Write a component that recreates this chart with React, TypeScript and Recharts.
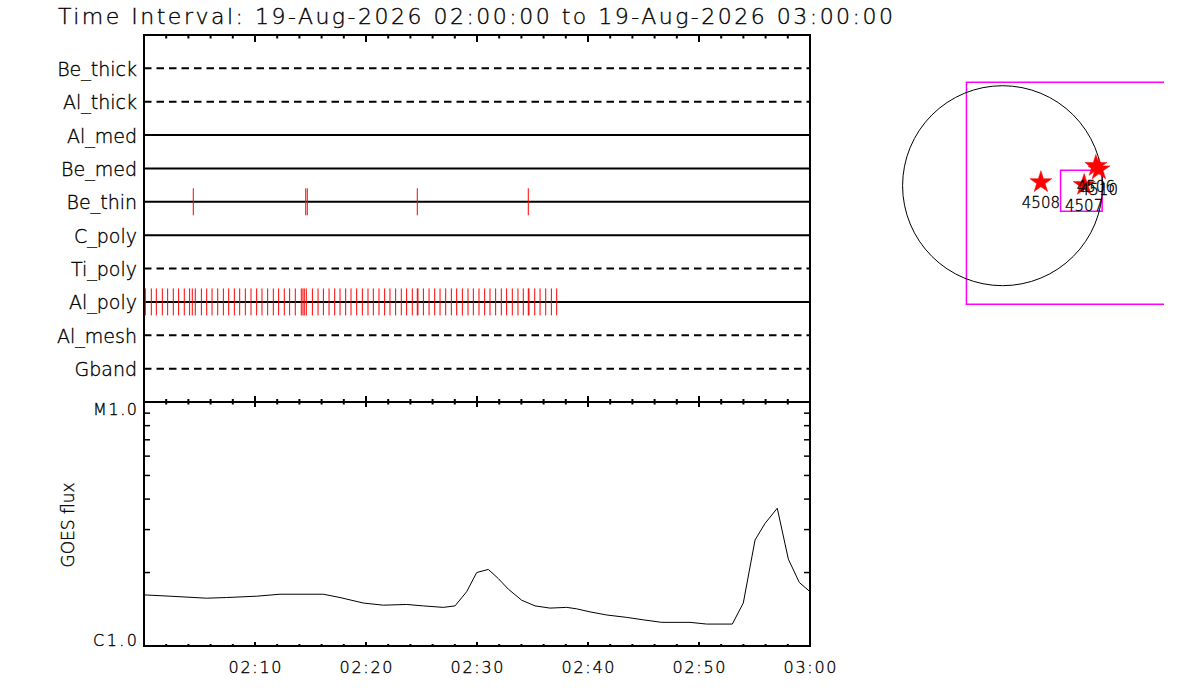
import React from 'react';
import {
  ComposedChart,
  ScatterChart,
  Scatter,
  Line,
  XAxis,
  YAxis,
  ReferenceLine,
  ReferenceArea,
  ReferenceDot,
  Symbols,
} from 'recharts';

// ---------- data ----------
const titleText = 'Time Interval: 19-Aug-2026 02:00:00 to 19-Aug-2026 03:00:00';

const rowNames = ['Be_thick', 'Al_thick', 'Al_med', 'Be_med', 'Be_thin', 'C_poly', 'Ti_poly', 'Al_poly', 'Al_mesh', 'Gband'];
const rowDashed = [true, true, false, false, false, false, true, false, true, true];
const rowIndex = [1, 2, 3, 4, 5, 6, 7, 8, 9, 10];

// event times (minutes after 02:00)
const beThinEvents = [4.44, 14.57, 14.71, 24.62, 34.62];
const alPolyEvents = [
  0.12, 0.66, 1.11, 1.65, 2.13, 2.64, 3.12, 3.63, 4.11, 4.35, 4.62, 5.17, 5.65, 6.13, 6.64, 7.15,
  7.63, 8.14, 8.62, 9.13, 9.64, 10.15, 10.63, 11.14, 11.65, 12.13, 12.64, 13.12, 13.63, 14.17, 14.32,
  14.44, 14.62, 15.17, 15.68, 16.16, 16.67, 17.18, 17.66, 18.17, 18.65, 19.16, 19.67, 20.18, 20.66,
  21.17, 21.68, 22.16, 22.67, 23.18, 23.66, 24.17, 24.62, 24.68, 25.17, 25.68, 26.19, 26.67, 27.18,
  27.69, 28.17, 28.68, 29.19, 29.67, 30.18, 30.69, 31.17, 31.68, 32.19, 32.67, 33.18, 33.69, 34.17,
  34.62, 34.68, 35.2, 35.68, 36.19, 36.7, 37.18,
];

// GOES flux curve
const goesMinutes = [
  0, 2.34, 5.65, 7.45, 10.15, 12.25, 16.15, 17.66, 19.76, 21.56, 23.67, 25.16, 26.96, 28.02, 29.07,
  29.97, 31.02, 31.92, 32.82, 34.03, 35.23, 36.58, 38.08, 38.98, 40.18, 41.68, 43.49, 44.98, 46.64,
  49.19, 50.69, 53.0, 53.99, 55.05, 55.95, 57.05, 58.05, 59.04, 60,
];
const goesFlux = [
  1.62e-6, 1.6e-6, 1.57e-6, 1.58e-6, 1.6e-6, 1.63e-6, 1.63e-6, 1.58e-6, 1.5e-6, 1.47e-6, 1.48e-6,
  1.46e-6, 1.44e-6, 1.46e-6, 1.67e-6, 2.0e-6, 2.06e-6, 1.89e-6, 1.71e-6, 1.54e-6, 1.46e-6, 1.43e-6,
  1.44e-6, 1.42e-6, 1.38e-6, 1.34e-6, 1.31e-6, 1.28e-6, 1.25e-6, 1.25e-6, 1.23e-6, 1.23e-6, 1.5e-6,
  2.72e-6, 3.18e-6, 3.67e-6, 2.27e-6, 1.82e-6, 1.67e-6,
];
const goesTicks = [1e-6, 2e-6, 3e-6, 4e-6, 5e-6, 6e-6, 7e-6, 8e-6, 9e-6, 1e-5];
const goesTickLabels = ['C1.0', '', '', '', '', '', '', '', '', 'M1.0'];

const timeTicks = [0, 2, 4, 6, 8, 10, 12, 14, 16, 18, 20, 22, 24, 26, 28, 30, 32, 34, 36, 38, 40, 42, 44, 46, 48, 50, 52, 54, 56, 58, 60];
const majorTimes = [10, 20, 30, 40, 50, 60];
const majorTimeLabels = ['02:10', '02:20', '02:30', '02:40', '02:50', '03:00'];

// active regions on the disk (arcsec)
const arNames = ['4506', '4507', '4508', '4510'];
const arX = [896, 783, 368, 925];
const arY = [189, 7, 33, 156];
const diskRadius = 960;
const fovBig = { x1: -347, x2: 2200, y1: -1139, y2: 993 };
const fovSmall = { x1: 557, x2: 956, y1: -246, y2: 148 };

// ---------- layout ----------
const W = 1200;
const H = 700;
const PL = 144;
const PR = 810;
const TOP1 = 35;
const MID = 402;
const BOT2 = 646;
const FONT = '"DejaVu Sans", sans-serif';
const FW = 200;
const TXT = { fontFamily: FONT, fontWeight: FW, fill: '#000', stroke: '#000', strokeWidth: 0.35 };

const MAP_LEFT = 888;
const MAP_TOP = 66;
const MAP_W = 276;
const MAP_H = 255;
const MAP_XDOM: [number, number] = [-1100, 1550];
const MAP_YDOM: [number, number] = [-1300, 1150];

const eventData = [
  ...beThinEvents.map((t) => ({ t, row: 5 })),
  ...alPolyEvents.map((t) => ({ t, row: 8 })),
];
const goesData = goesMinutes.map((t, i) => ({ t, flux: goesFlux[i] }));
const arData = arNames.map((name, i) => ({ x: arX[i], y: arY[i], name }));

// ---------- custom ticks ----------
const TopPanelXTick = (props: any) => {
  const { x, payload } = props;
  const v = payload.value;
  if (v === 0 || v === 60) return <g />;
  const major = v % 10 === 0;
  return (
    <g>
      <line x1={x} x2={x} y1={TOP1} y2={TOP1 + (major ? 7 : 3.5)} stroke="#000" strokeWidth={2} />
      <line x1={x} x2={x} y1={MID} y2={MID - (major ? 6 : 3)} stroke="#000" strokeWidth={2} />
    </g>
  );
};

const RowLabelTick = (props: any) => {
  const { y, payload } = props;
  const name = rowNames[rowIndex.indexOf(payload.value)];
  return (
    <text x={PL - 7} y={y + 7.5} textAnchor="end" fontSize={19} {...TXT}>
      {name}
    </text>
  );
};

const GoesXTick = (props: any) => {
  const { x, payload } = props;
  const v = payload.value;
  const mi = majorTimes.indexOf(v);
  const major = mi >= 0;
  const edge = v === 0 || v === 60;
  return (
    <g>
      {!edge && (
        <>
          <line x1={x} x2={x} y1={MID} y2={MID + (major ? 5 : 2.5)} stroke="#000" strokeWidth={2} />
          <line x1={x} x2={x} y1={BOT2} y2={BOT2 - (major ? 4 : 2)} stroke="#000" strokeWidth={2} />
        </>
      )}
      {major && (
        <text x={x} y={BOT2 + 27} textAnchor="middle" fontSize={16} textLength={53} lengthAdjust="spacing" {...TXT}>
          {majorTimeLabels[mi]}
        </text>
      )}
    </g>
  );
};

const GoesYTick = (props: any) => {
  const { y, payload } = props;
  const i = goesTicks.indexOf(payload.value);
  const label = i >= 0 ? goesTickLabels[i] : '';
  const edge = i === 0 || i === goesTicks.length - 1;
  return (
    <g>
      {!edge && (
        <>
          <line x1={PL} x2={PL + 6} y1={y} y2={y} stroke="#000" strokeWidth={1.5} />
          <line x1={PR - 6} x2={PR} y1={y} y2={y} stroke="#000" strokeWidth={1.5} />
        </>
      )}
      {label && (
        <text
          x={PL - 7}
          y={i === 0 ? y : y + 13}
          textAnchor="end"
          fontSize={16}
          textLength={44}
          lengthAdjust="spacing"
          {...TXT}
        >
          {label}
        </text>
      )}
    </g>
  );
};

const EventMark = (props: any) => {
  const { cx, cy } = props;
  return <line x1={cx} x2={cx} y1={cy - 13.5} y2={cy + 13.5} stroke="#ff0000" strokeWidth={1} />;
};

const StarMark = (props: any) => {
  const { cx, cy } = props;
  return <Symbols cx={cx} cy={cy} type="star" size={150} fill="#ff0000" stroke="#ff0000" strokeWidth={0.5} />;
};

const StarLabel = (props: any) => {
  const { cx, cy, payload } = props;
  return (
    <text x={cx} y={cy + 26} textAnchor="middle" fontSize={15} {...TXT}>
      {payload.name}
    </text>
  );
};

export default function App() {
  const pxPerArcsec = MAP_W / (MAP_XDOM[1] - MAP_XDOM[0]);
  return (
    <div style={{ position: 'absolute', left: 0, top: 0, width: W, height: H, background: '#fff', overflow: 'hidden' }}>
      {/* filter panel */}
      <div style={{ position: 'absolute', left: 0, top: 0 }}>
        <ComposedChart
          width={W}
          height={H}
          data={eventData}
          margin={{ top: TOP1, right: W - PR, bottom: H - MID - 1, left: PL - 1 }}
        >
          <XAxis
            type="number"
            dataKey="t"
            domain={[0, 60]}
            ticks={timeTicks}
            interval={0}
            height={1}
            axisLine={false}
            tickLine={false}
            tick={<TopPanelXTick />}
            allowDataOverflow
          />
          <YAxis
            type="number"
            dataKey="row"
            domain={[0, 11]}
            reversed
            ticks={rowIndex}
            interval={0}
            width={1}
            axisLine={false}
            tickLine={false}
            tick={<RowLabelTick />}
            allowDataOverflow
          />
          {rowIndex.map((r, i) => (
            <ReferenceLine
              key={rowNames[i]}
              y={r}
              stroke="#000"
              strokeWidth={2}
              strokeDasharray={rowDashed[i] ? '7.5 5' : undefined}
            />
          ))}
          <Scatter data={eventData} shape={<EventMark />} isAnimationActive={false} />
          <ReferenceArea x1={0} x2={60} y1={0} y2={11} fill="none" fillOpacity={0} stroke="#000" strokeWidth={2} />
        </ComposedChart>
      </div>

      {/* GOES panel */}
      <div style={{ position: 'absolute', left: 0, top: 0 }}>
        <ComposedChart
          width={W}
          height={H}
          data={goesData}
          margin={{ top: MID, right: W - PR, bottom: H - BOT2 - 1, left: PL - 1 }}
        >
          <XAxis
            type="number"
            dataKey="t"
            domain={[0, 60]}
            ticks={timeTicks}
            interval={0}
            height={1}
            axisLine={false}
            tickLine={false}
            tick={<GoesXTick />}
            allowDataOverflow
          />
          <YAxis
            type="number"
            scale="log"
            domain={[1e-6, 1e-5]}
            ticks={goesTicks}
            interval={0}
            width={1}
            axisLine={false}
            tickLine={false}
            tick={<GoesYTick />}
            allowDataOverflow
          />
          <Line
            type="linear"
            dataKey="flux"
            stroke="#000"
            strokeWidth={1}
            dot={false}
            isAnimationActive={false}
          />
          <ReferenceArea x1={0} x2={60} y1={1e-6} y2={1e-5} fill="none" fillOpacity={0} stroke="#000" strokeWidth={2} />
        </ComposedChart>
      </div>

      {/* solar disk map */}
      <div style={{ position: 'absolute', left: MAP_LEFT, top: MAP_TOP }}>
        <ScatterChart width={MAP_W} height={MAP_H} margin={{ top: 0, right: 0, bottom: 0, left: 0 }}>
          <XAxis type="number" dataKey="x" domain={MAP_XDOM} hide allowDataOverflow />
          <YAxis type="number" dataKey="y" domain={MAP_YDOM} hide width={0} allowDataOverflow />
          <ReferenceDot x={0} y={0} r={diskRadius * pxPerArcsec} fill="none" stroke="#000" strokeWidth={1} />
          <ReferenceArea
            x1={fovBig.x1}
            x2={fovBig.x2}
            y1={fovBig.y1}
            y2={fovBig.y2}
            fill="none"
            fillOpacity={0}
            stroke="#ff00ff"
            strokeWidth={1.5}
            ifOverflow="hidden"
          />
          <ReferenceArea
            x1={fovSmall.x1}
            x2={fovSmall.x2}
            y1={fovSmall.y1}
            y2={fovSmall.y2}
            fill="none"
            fillOpacity={0}
            stroke="#ff00ff"
            strokeWidth={1.5}
          />
          <Scatter data={arData} shape={<StarMark />} isAnimationActive={false} />
          <Scatter data={arData} shape={<StarLabel />} isAnimationActive={false} />
        </ScatterChart>
      </div>

      {/* titles */}
      <svg width={W} height={H} style={{ position: 'absolute', left: 0, top: 0, pointerEvents: 'none' }}>
        <text x={58} y={24} fontSize={22} textLength={835} lengthAdjust="spacing" {...TXT}>
          {titleText}
        </text>
        <text
          x={0}
          y={0}
          transform={`translate(74, 525) rotate(-90)`}
          textAnchor="middle"
          fontSize={17}
          {...TXT}
        >
          GOES flux
        </text>
      </svg>
    </div>
  );
}
